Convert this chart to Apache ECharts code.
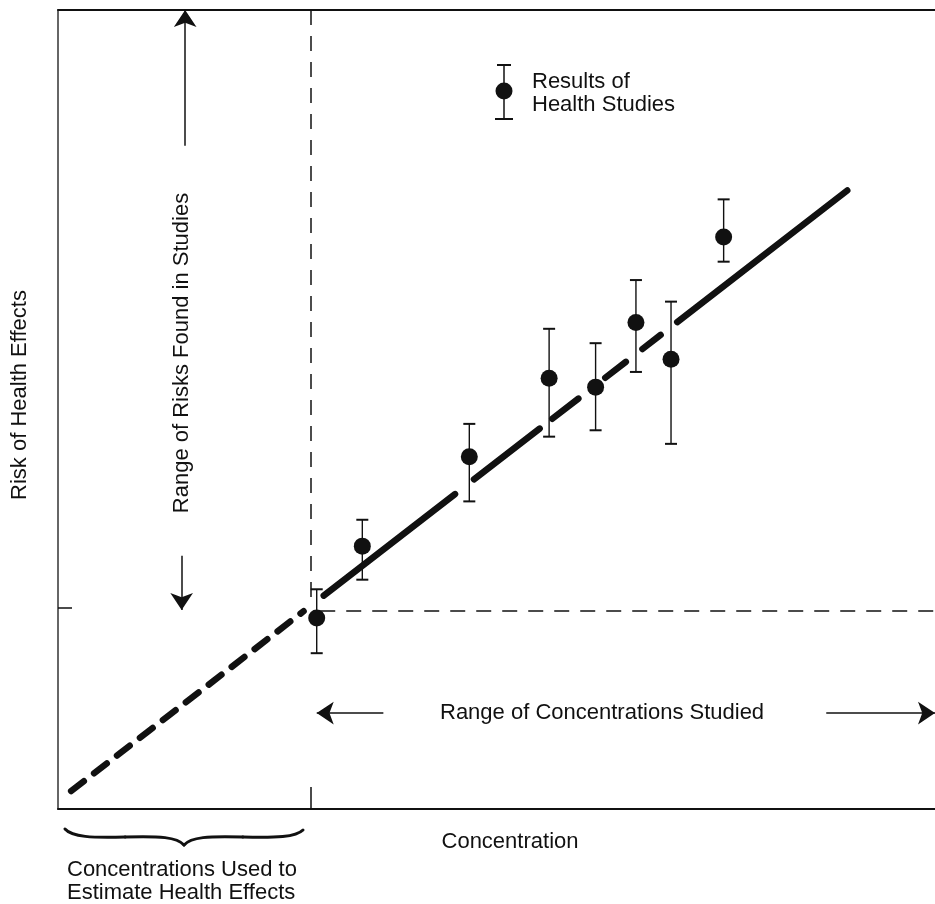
<!DOCTYPE html>
<html>
<head>
<meta charset="utf-8">
<script src="https://cdn.jsdelivr.net/npm/echarts@6/dist/echarts.min.js"></script>
<style>
  html, body { margin: 0; padding: 0; background: #ffffff; }
  #chart { width: 935px; height: 904px; }
</style>
</head>
<body>
<div id="chart"></div>
<script>
// ---- data (concentration and risk in arbitrary relative units, 0-100) ----
var studyConcentration = [29.5, 34.7, 46.9, 56.0, 61.3, 65.9, 69.9, 75.9];
var studyRisk          = [23.9, 32.9, 44.1, 53.9, 52.8, 60.9, 56.3, 71.6];
var studyRiskLow       = [19.5, 28.7, 38.5, 46.6, 47.4, 54.7, 45.7, 68.5];
var studyRiskHigh      = [27.5, 36.2, 48.2, 60.1, 58.3, 66.2, 63.5, 76.3];

// fitted dose-response line: extrapolated part and studied part
var extrapolatedLine = [[1.5, 2.25], [28.0, 24.75]];
var studiedLine      = [[30.3, 26.7], [90.1, 77.5]];

// lowest concentration studied and corresponding risk
var lowestStudiedConcentration = 28.85;
var lowestStudiedRisk = 24.8;
var riskTick = 25.2;

var FONT = '"Liberation Sans", Arial, Helvetica, sans-serif';
var INK = '#111111';

var chart = echarts.init(document.getElementById('chart'), null, { renderer: 'canvas' });

var errorData = studyConcentration.map(function (x, i) {
  return [x, studyRiskLow[i], studyRiskHigh[i]];
});
var pointData = studyConcentration.map(function (x, i) {
  return [x, studyRisk[i]];
});

function braceSeg(x1, y1, c1x, c1y, c2x, c2y, x2, y2) {
  return { type: 'bezierCurve', z: 10, silent: true,
           shape: { x1: x1, y1: y1, cpx1: c1x, cpy1: c1y, cpx2: c2x, cpy2: c2y, x2: x2, y2: y2 },
           style: { stroke: INK, lineWidth: 3, fill: null, lineCap: 'round' } };
}

var option = {
  backgroundColor: '#ffffff',
  animation: false,
  grid: { left: 58, right: 0, top: 10, bottom: 95, containLabel: false },
  xAxis: [{
    type: 'value', min: 0, max: 100, position: 'bottom',
    name: 'Concentration', nameLocation: 'middle', nameGap: 22,
    nameTextStyle: { fontFamily: FONT, fontSize: 22, color: INK, padding: [0, 0, 0, 27] },
    axisLine: { show: true, lineStyle: { color: INK, width: 2 } },
    axisTick: { show: true, inside: true, length: 22, customValues: [lowestStudiedConcentration],
                lineStyle: { color: INK, width: 1.5 } },
    axisLabel: { show: false },
    splitLine: { show: false }
  }, {
    type: 'value', min: 0, max: 100, position: 'top',
    axisLine: { show: true, onZero: false, lineStyle: { color: INK, width: 2 } },
    axisTick: { show: false }, axisLabel: { show: false }, splitLine: { show: false }
  }],
  yAxis: {
    type: 'value', min: 0, max: 100,
    name: 'Risk of Health Effects', nameLocation: 'middle', nameGap: 27,
    nameTextStyle: { fontFamily: FONT, fontSize: 22, color: INK, padding: [0, 0, 0, 29] },
    axisLine: { show: true, onZero: false, lineStyle: { color: '#333333', width: 1.5 } },
    axisTick: { show: true, inside: true, length: 14, customValues: [riskTick],
                lineStyle: { color: INK, width: 1.5 } },
    axisLabel: { show: false },
    splitLine: { show: false }
  },
  series: [
    {
      name: 'Threshold guides', type: 'lines', coordinateSystem: 'cartesian2d', z: 1,
      silent: true,
      lineStyle: { color: INK, width: 1.5, type: [15, 11], opacity: 1 },
      data: [
        { coords: [[lowestStudiedConcentration, 100], [lowestStudiedConcentration, 25.8]] },
        { coords: [[29.9, lowestStudiedRisk], [100, lowestStudiedRisk]] }
      ]
    },
    {
      name: 'Arrows', type: 'lines', coordinateSystem: 'cartesian2d', z: 2, silent: true,
      symbol: ['none', 'arrow'], symbolSize: [9, 17],
      lineStyle: { color: INK, width: 1.5, opacity: 1 },
      data: [
        { coords: [[14.5, 83.0], [14.5, 100]] },
        { coords: [[14.1, 31.7], [14.1, 24.9]] },
        { coords: [[37.1, 12.0], [29.5, 12.0]] },
        { coords: [[87.6, 12.0], [100, 12.0]] }
      ]
    },
    {
      name: 'Error bars', type: 'custom', z: 3, silent: true,
      renderItem: function (params, api) {
        var x = api.value(0);
        var lo = api.coord([x, api.value(1)]);
        var hi = api.coord([x, api.value(2)]);
        var cap = 6;
        var st = { stroke: INK, lineWidth: 1.4 };
        return {
          type: 'group',
          children: [
            { type: 'line', shape: { x1: hi[0], y1: hi[1], x2: lo[0], y2: lo[1] }, style: st },
            { type: 'line', shape: { x1: hi[0] - cap, y1: hi[1], x2: hi[0] + cap, y2: hi[1] }, style: { stroke: INK, lineWidth: 2 } },
            { type: 'line', shape: { x1: lo[0] - cap, y1: lo[1], x2: lo[0] + cap, y2: lo[1] }, style: { stroke: INK, lineWidth: 2 } }
          ]
        };
      },
      encode: { x: 0, y: [1, 2] },
      data: errorData
    },
    {
      name: 'Extrapolated', type: 'line', z: 4, showSymbol: false, silent: true,
      lineStyle: { color: INK, width: 6.5, type: [16, 13], cap: 'round' },
      data: extrapolatedLine
    },
    {
      name: 'Fitted', type: 'line', z: 4, showSymbol: false, silent: true,
      lineStyle: { color: INK, width: 6.5, cap: 'round',
                   type: [166, 24, 83, 16, 33, 34, 26, 21, 23, 21, 215] },
      data: studiedLine
    },
    {
      name: 'Results of Health Studies', type: 'scatter', z: 5, silent: true,
      symbol: 'circle', symbolSize: 17,
      itemStyle: { color: INK, opacity: 1 },
      data: pointData
    }
  ],
  graphic: [
    {
      type: 'text', z: 10,
      x: 182, y: 353, rotation: Math.PI / 2,
      style: { text: 'Range of Risks Found in Studies', font: '22px ' + FONT, fill: INK,
               align: 'center', verticalAlign: 'middle' }
    },
    {
      type: 'text', z: 10, x: 440, y: 713,
      style: { text: 'Range of Concentrations Studied', font: '22px ' + FONT, fill: INK,
               align: 'left', verticalAlign: 'middle' }
    },
    {
      type: 'text', z: 10, x: 67, y: 881.5,
      style: { text: 'Concentrations Used to\nEstimate Health Effects', font: '22px ' + FONT, fill: INK,
               align: 'left', verticalAlign: 'middle', lineHeight: 23 }
    },
    braceSeg(65, 829, 72, 837, 92, 838, 125, 837),
    braceSeg(125, 837, 160, 836, 177, 837, 184, 845),
    braceSeg(184, 845, 191, 837, 208, 836, 243, 837),
    braceSeg(243, 837, 276, 838, 296, 837, 303, 830),
    {
      type: 'group', z: 10,
      children: [
        { type: 'line', shape: { x1: 504, y1: 65, x2: 504, y2: 119 }, style: { stroke: INK, lineWidth: 1.5 } },
        { type: 'line', shape: { x1: 497, y1: 65, x2: 511, y2: 65 }, style: { stroke: INK, lineWidth: 2 } },
        { type: 'line', shape: { x1: 495, y1: 119, x2: 513, y2: 119 }, style: { stroke: INK, lineWidth: 2 } },
        { type: 'circle', shape: { cx: 504, cy: 91, r: 8.5 }, style: { fill: INK } },
        { type: 'text', x: 532, y: 93.5,
          style: { text: 'Results of\nHealth Studies', font: '22px ' + FONT, fill: INK,
                   align: 'left', verticalAlign: 'middle', lineHeight: 23 } }
      ]
    }
  ]
};

chart.setOption(option);
</script>
</body>
</html>
